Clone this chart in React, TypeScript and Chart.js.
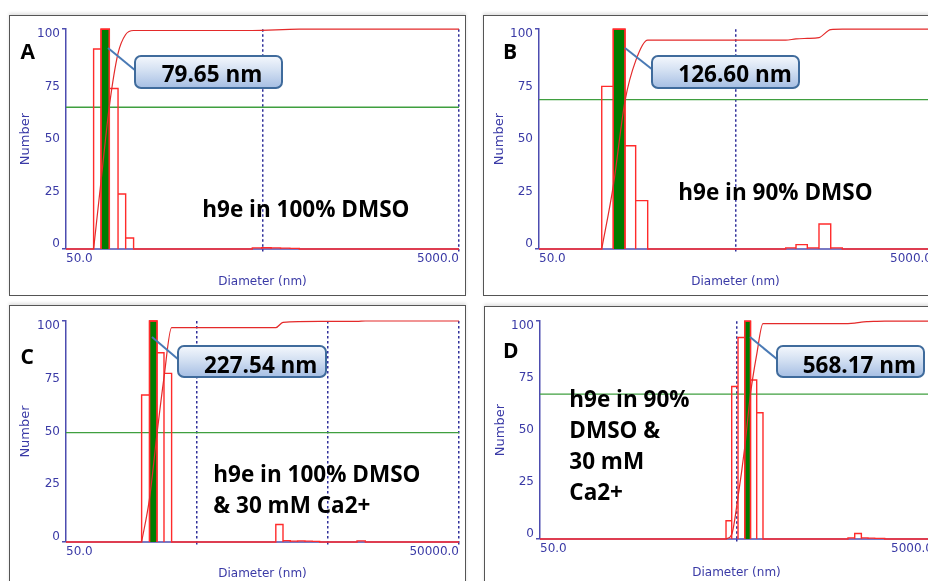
import React, { useEffect, useRef } from 'react';
import { Chart, registerables } from 'chart.js';

Chart.register(...registerables);

// ---------------- DATA ----------------
// Y-axis tick labels (all panels)
const yTickValues = [0, 25, 50, 75, 100];

// Panel A : h9e in 100% DMSO
const edgesA1 = [69.1, 75.4, 83.1, 92.0, 100.6, 110.4];
const countsA1 = [91, 100, 73, 25, 5];
const edgesA2 = [443.7, 495.3, 553.1, 617.5, 689.4, 769.6];
const countsA2 = [0.5, 0.6, 0.5, 0.4, 0.3];
const cumDiamA = [69.1, 75.4, 83.1, 92.0, 100.6, 110.4, 443.7, 769.6, 5000];
const cumPctA = [0, 31, 65, 89, 97.6, 99.4, 99.4, 100, 100];
const levelA = 64.5;
const xTicksA = [50, 500, 5000];

// Panel B : h9e in 90% DMSO
const edgesB1 = [104.3, 119.4, 137.0, 155.2, 178.7];
const countsB1 = [74, 100, 47, 22];
const edgesB2 = [900, 1016, 1160, 1330, 1526, 1748];
const countsB2 = [0.5, 2, 0.5, 11.4, 0.5];
const cumDiamB = [104.3, 119.4, 137.0, 155.2, 178.7, 900, 1016, 1160, 1330, 1526, 1748, 5000];
const cumPctB = [0, 28.7, 67.4, 85.6, 95, 95, 95.6, 95.8, 96.2, 99.8, 100, 100];
const levelB = 68;
const xTicksB = [50, 500, 5000];

// Panel C : h9e in 100% DMSO & 30 mM Ca2+
const edgesC1 = [188.9, 217.0, 247.6, 279.9, 320.0];
const countsC1 = [66.5, 100, 85.6, 76.3];
const edgesC2 = [1998, 2267, 2578, 2931, 3337, 3795, 4315];
const countsC2 = [7.9, 0.6, 0.4, 0.5, 0.4, 0.3];
const edgesC3 = [8325, 9630];
const countsC3 = [0.5];
const cumDiamC = [188.9, 217.0, 247.6, 279.9, 320.0, 1998, 2267, 4315, 8325, 9630, 50000];
const cumPctC = [0, 19.6, 49.1, 74.4, 97, 97, 99.4, 99.8, 99.8, 100, 100];
const levelC = 49.5;
const xTicksC = [50, 500, 5000, 50000];

// Panel D : h9e in 90% DMSO & 30 mM Ca2+
const edgesD1 = [442.2, 472.7, 509.0, 550.6, 589.2, 633.5, 682.0];
const countsD1 = [8.4, 70, 92.5, 100, 73, 58];
const edgesD2 = [1846, 1998, 2160, 2334, 2525, 2839];
const countsD2 = [0.5, 2.5, 0.5, 0.4, 0.3];
const cumDiamD = [442.2, 472.7, 509.0, 550.6, 589.2, 633.5, 682.0, 1846, 1998, 2160, 2334, 2525, 2839, 5000];
const cumPctD = [0, 2.1, 19.3, 42.1, 66.7, 84.7, 98.9, 98.9, 99.1, 99.6, 99.8, 99.9, 100, 100];
const levelD = 66.5;
const xTicksD = [50, 500, 5000];

// Text content
const peakLabels = ['79.65 nm', '126.60 nm', '227.54 nm', '568.17 nm'];
const sampleLabels = [
  ['h9e in 100% DMSO'],
  ['h9e in 90% DMSO'],
  ['h9e in 100% DMSO', '& 30 mM Ca2+'],
  ['h9e in 90%', 'DMSO &', '30 mM', 'Ca2+'],
];
const panelLetters = ['A', 'B', 'C', 'D'];

// ---------------- STYLE / LAYOUT ----------------
const AXIS_TEXT = '#3a3aa6';
const AXIS_LINE = '#4d4db0';
const DOT_COLOR = '#30309a';
const RED = '#ff2b2b';
const CUM_RED = '#e42a2a';
const GREEN_FILL = '#007c00';
const GREEN_LINE = '#3f9f3f';
const TICK_FONT = { family: 'DejaVu Sans', size: 12 };
const BIG_FONT = '"Open Sans", "Liberation Sans", sans-serif';

type Box = { x: number; y: number; w: number; h: number };
type Plot = { l: number; t: number; r: number; b: number };
type PanelCfg = {
  cv: Box;
  plot: Plot;
  xTicks: number[];
  clusters: [number[], number[]][];
  cumD: number[];
  cumP: number[];
  level: number;
};

const panels: PanelCfg[] = [
  {
    cv: { x: 10, y: 16, w: 455, h: 279 },
    plot: { l: 66, t: 28, r: 459, b: 249 },
    xTicks: xTicksA,
    clusters: [[edgesA1, countsA1], [edgesA2, countsA2]],
    cumD: cumDiamA, cumP: cumPctA, level: levelA,
  },
  {
    cv: { x: 484, y: 16, w: 455, h: 279 },
    plot: { l: 539, t: 29, r: 932, b: 249 },
    xTicks: xTicksB,
    clusters: [[edgesB1, countsB1], [edgesB2, countsB2]],
    cumD: cumDiamB, cumP: cumPctB, level: levelB,
  },
  {
    cv: { x: 10, y: 307, w: 455, h: 280 },
    plot: { l: 66, t: 321, r: 459, b: 542 },
    xTicks: xTicksC,
    clusters: [[edgesC1, countsC1], [edgesC2, countsC2], [edgesC3, countsC3]],
    cumD: cumDiamC, cumP: cumPctC, level: levelC,
  },
  {
    cv: { x: 485, y: 308, w: 455, h: 278 },
    plot: { l: 540, t: 319, r: 933, b: 539 },
    xTicks: xTicksD,
    clusters: [[edgesD1, countsD1], [edgesD2, countsD2]],
    cumD: cumDiamD, cumP: cumPctD, level: levelD,
  },
];

const frames = [
  { x: 9, y: 15, w: 457, h: 281 },
  { x: 483, y: 15, w: 470, h: 281 },
  { x: 9, y: 305, w: 457, h: 300 },
  { x: 484, y: 306, w: 470, h: 300 },
];

const calloutBoxes = [
  { x: 134, y: 55, w: 149, h: 34 },
  { x: 651, y: 55, w: 149, h: 34 },
  { x: 177, y: 345, w: 150, h: 33 },
  { x: 776, y: 345, w: 149, h: 33 },
];
const pointers = [
  [108, 48, 136, 71],
  [625, 48, 653, 70],
  [152, 337, 179, 360],
  [750, 337, 778, 360],
];
const calloutTextPos = [
  { x: 161.7, base: 83.3 },
  { x: 678.3, base: 83.3 },
  { x: 204, base: 374 },
  { x: 802.7, base: 374 },
];
const samplePos = [
  { x: 202.3, base: 217.3, lh: 31 },
  { x: 678.3, base: 200.7, lh: 31 },
  { x: 213.3, base: 482.3, lh: 31.7 },
  { x: 569.3, base: 408.3, lh: 30.8 },
];
const letterPos = [
  { x: 20.5, base: 60 },
  { x: 503, base: 60 },
  { x: 20.5, base: 365 },
  { x: 503, base: 358.5 },
];

// ---------------- HELPERS ----------------
function outlinePoints(clusters: [number[], number[]][], xMin: number, xMax: number) {
  const pts: { x: number; y: number | null }[] = [{ x: xMin, y: 0 }];
  clusters.forEach(([edges, counts]) => {
    pts.push({ x: edges[0], y: 0 });
    counts.forEach((c, i) => {
      if (i > 0) {
        pts.push({ x: edges[i], y: null });
        pts.push({ x: edges[i], y: 0 });
      }
      pts.push({ x: edges[i], y: c }, { x: edges[i + 1], y: c }, { x: edges[i + 1], y: 0 });
    });
  });
  pts.push({ x: xMax, y: 0 });
  return pts;
}

function peakPoints(clusters: [number[], number[]][]) {
  const [edges, counts] = clusters[0];
  const k = counts.indexOf(Math.max(...counts));
  return [
    { x: edges[k], y: 0 },
    { x: edges[k], y: counts[k] },
    { x: edges[k + 1], y: counts[k] },
    { x: edges[k + 1], y: 0 },
  ];
}

function buildConfig(p: PanelCfg): any {
  const xMin = p.xTicks[0];
  const xMax = p.xTicks[p.xTicks.length - 1];
  const topPad = p.plot.t - p.cv.y;
  const rightPad = p.cv.x + p.cv.w - p.plot.r;
  const yWidth = p.plot.l - p.cv.x;
  const xHeight = p.cv.y + p.cv.h - p.plot.b;
  const common = {
    xAxisID: 'x',
    yAxisID: 'y',
    pointRadius: 0,
    pointHoverRadius: 0,
    clip: false as any,
    tension: 0,
  };
  return {
    type: 'line',
    data: {
      datasets: [
        {
          ...common,
          data: [{ x: xMin, y: 0 }, { x: xMax, y: 0 }],
          borderColor: AXIS_LINE,
          borderWidth: 1.5,
          order: 6,
        },
        {
          ...common,
          data: [{ x: xMin, y: p.level }, { x: xMax, y: p.level }],
          borderColor: GREEN_LINE,
          borderWidth: 1.3,
          order: 5,
        },
        {
          ...common,
          data: peakPoints(p.clusters),
          borderColor: RED,
          borderWidth: 1.3,
          backgroundColor: GREEN_FILL,
          fill: 'origin',
          order: 3,
        },
        {
          ...common,
          data: outlinePoints(p.clusters, xMin, xMax),
          borderColor: RED,
          borderWidth: 1.4,
          spanGaps: false,
          order: 2,
        },
        {
          ...common,
          data: p.cumD.map((d, i) => ({ x: d, y: p.cumP[i] })),
          borderColor: CUM_RED,
          borderWidth: 1.2,
          cubicInterpolationMode: 'monotone',
          order: 1,
        },
      ],
    },
    options: {
      animation: false,
      responsive: false,
      events: [],
      layout: { padding: { left: 0, top: topPad, right: rightPad, bottom: 0 } },
      plugins: { legend: { display: false }, tooltip: { enabled: false } },
      scales: {
        x: {
          type: 'logarithmic',
          min: xMin,
          max: xMax,
          afterBuildTicks: (s: any) => {
            s.ticks = p.xTicks.map((v) => ({ value: v }));
          },
          afterFit: (s: any) => {
            s.height = xHeight;
          },
          ticks: {
            autoSkip: false,
            maxRotation: 0,
            align: 'inner',
            padding: -2,
            color: AXIS_TEXT,
            font: TICK_FONT,
            callback: (v: any, i: number, arr: any[]) =>
              i === 0 || i === arr.length - 1 ? Number(v).toFixed(1) : '',
          },
          grid: {
            color: (ctx: any) => (ctx.tick && ctx.tick.value === xMin ? 'rgba(0,0,0,0)' : DOT_COLOR),
            lineWidth: 1.5,
            drawTicks: true,
            tickLength: 5,
            tickColor: (ctx: any) => (ctx.tick && ctx.tick.value === xMin ? 'rgba(0,0,0,0)' : DOT_COLOR),
            tickWidth: 1.5,
            tickBorderDash: [2.5, 2.5],
          },
          border: { display: false, dash: [2.5, 2.5] },
          title: {
            display: true,
            text: 'Diameter (nm)',
            color: AXIS_TEXT,
            font: { family: 'DejaVu Sans', size: 12 },
            padding: { top: 0, bottom: 6 },
          },
        },
        // inner data axis: axis line + end ticks
        y: {
          position: 'left',
          weight: 0,
          min: 0,
          max: 100,
          afterBuildTicks: (s: any) => {
            s.ticks = [{ value: 0 }, { value: 100 }];
          },
          afterFit: (s: any) => {
            s.width = 0;
          },
          ticks: { display: false },
          grid: { drawOnChartArea: false, drawTicks: true, tickLength: 4, color: AXIS_LINE, lineWidth: 1.5 },
          border: { display: true, color: AXIS_LINE, width: 1.5 },
        },
        // outer left axis: tick labels + title (labels slightly inset like the instrument software)
        y2: {
          position: 'left',
          weight: 10,
          min: -2.37,
          max: 102.37,
          afterBuildTicks: (s: any) => {
            s.ticks = yTickValues.map((v) => ({ value: v }));
          },
          afterFit: (s: any) => {
            s.width = yWidth;
          },
          ticks: { autoSkip: false, padding: 6, color: AXIS_TEXT, font: TICK_FONT },
          grid: { display: false, drawTicks: false },
          border: { display: false },
          title: {
            display: true,
            text: 'Number',
            color: AXIS_TEXT,
            font: { family: 'DejaVu Sans', size: 13 },
            padding: { top: 7.5, bottom: 0 },
          },
        },
      },
    },
  };
}

function PanelChart({ cfg }: { cfg: PanelCfg }) {
  const ref = useRef<HTMLCanvasElement>(null);
  useEffect(() => {
    if (!ref.current) return;
    const chart = new Chart(ref.current, buildConfig(cfg));
    return () => chart.destroy();
  }, [cfg]);
  return (
    <canvas
      ref={ref}
      width={cfg.cv.w}
      height={cfg.cv.h}
      style={{ position: 'absolute', left: cfg.cv.x, top: cfg.cv.y, width: cfg.cv.w, height: cfg.cv.h }}
    />
  );
}

// baseline-positioned text (Open Sans: ascent 1.069, descent 0.293)
function topFor(base: number, fs: number, lh: number) {
  return base - ((lh - 1.362 * fs) / 2 + 1.069 * fs);
}

export default function App() {
  const FS = 22.5;
  return (
    <div
      style={{
        position: 'fixed',
        left: 0,
        top: 0,
        width: 928,
        height: 581,
        background: '#ffffff',
        overflow: 'hidden',
      }}
    >
      {frames.map((f, i) => (
        <div
          key={'f' + i}
          style={{
            position: 'absolute',
            left: f.x,
            top: f.y,
            width: f.w,
            height: f.h,
            boxSizing: 'border-box',
            border: '1.5px solid #555',
            boxShadow: '0 -2px 3px rgba(0,0,0,0.12)',
            background: '#fff',
          }}
        />
      ))}
      {panels.map((p, i) => (
        <PanelChart key={'c' + i} cfg={p} />
      ))}
      <svg
        width={928}
        height={581}
        style={{ position: 'absolute', left: 0, top: 0, pointerEvents: 'none' }}
      >
        {pointers.map((l, i) => (
          <line key={'p' + i} x1={l[0]} y1={l[1]} x2={l[2]} y2={l[3]} stroke="#4a7ab5" strokeWidth={2} />
        ))}
      </svg>
      {calloutBoxes.map((b, i) => (
        <div
          key={'b' + i}
          style={{
            position: 'absolute',
            left: b.x,
            top: b.y,
            width: b.w,
            height: b.h,
            boxSizing: 'border-box',
            border: '2px solid #3f6b9c',
            borderRadius: 7,
            background: 'linear-gradient(to bottom, #f2f6fc 0%, #d3e0f2 45%, #a8c0e4 100%)',
          }}
        />
      ))}
      {peakLabels.map((t, i) => (
        <div
          key={'t' + i}
          style={{
            position: 'absolute',
            left: calloutTextPos[i].x,
            top: topFor(calloutTextPos[i].base, FS, FS),
            fontFamily: BIG_FONT,
            fontWeight: 700,
            fontSize: FS,
            lineHeight: FS + 'px',
            color: '#000',
            whiteSpace: 'nowrap',
          }}
        >
          {t}
        </div>
      ))}
      {sampleLabels.map((lines, i) => (
        <div
          key={'s' + i}
          style={{
            position: 'absolute',
            left: samplePos[i].x,
            top: topFor(samplePos[i].base, FS, samplePos[i].lh),
            fontFamily: BIG_FONT,
            fontWeight: 700,
            fontSize: FS,
            lineHeight: samplePos[i].lh + 'px',
            color: '#000',
            whiteSpace: 'nowrap',
          }}
        >
          {lines.map((ln, j) => (
            <div key={j}>{ln}</div>
          ))}
        </div>
      ))}
      {panelLetters.map((t, i) => (
        <div
          key={'l' + i}
          style={{
            position: 'absolute',
            left: letterPos[i].x,
            top: topFor(letterPos[i].base, 21, 21),
            fontFamily: BIG_FONT,
            fontWeight: 700,
            fontSize: 21,
            lineHeight: '21px',
            color: '#000',
          }}
        >
          {t}
        </div>
      ))}
    </div>
  );
}
